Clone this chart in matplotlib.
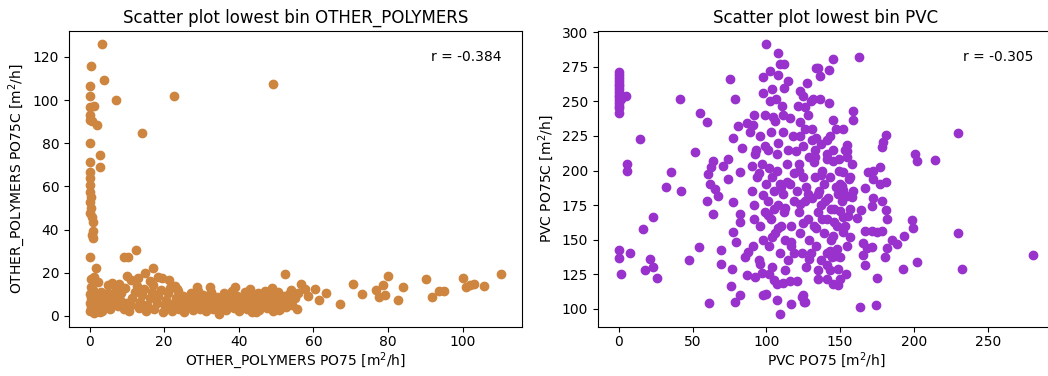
import matplotlib
matplotlib.use("Agg")
import matplotlib.pyplot as plt
import numpy as np

# ---------------- OTHER_POLYMERS data ----------------
# vertical stack near x = 0 and scattered high values
op_stack_x = [3.4, 0.5, 3.8, 0.0, 0.0, 7.1, 22.6, 49.2, 0.0, 1.2, 0.0, 0.0, 0.6, 1.9, 14.1, 0.0,
              2.7, 0.0, 2.7, 0.0, 0.0, 0.2, 0.0, 0.3, 0.0, 0.4, 0.2, 0.6, 0.8, 1.0, 1.0, 0.7,
              0.0, 1.6, 0.5, 2.3, 5.0, 5.9, 0.3, 1.1]
op_stack_y = [125.8, 115.7, 109.5, 106.4, 102.0, 99.9, 101.8, 107.3, 96.8, 97.1, 93.3, 91.0, 90.2, 88.6, 84.7, 80.0,
              74.5, 71.5, 69.2, 66.9, 63.8, 60.7, 57.6, 55.3, 52.9, 49.9, 47.5, 45.9, 43.6, 39.3, 35.9, 37.5,
              27.5, 22.0, 17.3, 15.7, 14.2, 15.0, 13.4, 18.0]
# dense band at low values
op_band_x = [0.0, 0.3, 0.1, 0.5, 0.0, 1.0, 1.5, 2.1, 1.8, 2.6, 3.1, 3.3, 3.6, 4.1, 4.6, 4.9, 1.1, 2.8, 0.6,
             5.6, 6.1, 6.4, 7.2, 7.6, 8.1, 8.4, 9.1, 9.6, 9.8, 9.2, 10.3, 12.5, 17.0, 14.8, 10.0,
             19.4, 21.2, 6.0, 7.8, 23.0, 23.4, 28.7, 32.3, 39.0, 43.0, 48.8, 54.1, 55.9, 52.5,
             10.6, 11.2, 11.4, 12.1, 12.6, 13.2, 13.4, 14.1, 14.6, 15.1, 15.4, 16.2, 16.6, 17.1, 17.4, 18.2,
             18.4, 19.1, 19.6, 16.1, 18.3, 11.0, 12.9,
             20.1, 20.4, 21.1, 21.6, 22.1, 22.4, 23.2, 23.7, 24.1, 24.6, 25.1, 25.4, 26.2, 26.6, 27.1, 27.6,
             28.2, 28.4, 29.1, 29.6,
             30.2, 30.4, 31.1, 31.6, 32.1, 32.6, 33.1, 33.4, 34.2, 34.6, 35.1, 35.4, 36.1, 36.6, 37.2, 37.4,
             38.1, 38.6, 39.1, 39.6,
             40.1, 40.4, 41.2, 41.6, 42.1, 42.4, 43.2, 43.6, 44.1, 44.6, 45.2, 45.4, 46.1, 46.6, 47.1, 47.6,
             48.2, 48.4, 49.1, 49.6,
             50.1, 50.6, 51.1, 51.4, 52.2, 52.6, 53.1, 53.4, 54.2, 55.1, 55.6, 44.7, 46.0, 50.8]
op_band_y = [2.1, 4.2, 6.1, 8.3, 10.2, 12.0, 3.1, 5.4, 7.6, 9.4, 11.1, 2.4, 6.2, 8.4, 4.1, 10.6, 1.2, 1.6, 11.2,
             3.4, 6.6, 9.1, 12.1, 4.6, 7.4, 10.4, 3.1, 13.1, 6.2, 27.3, 27.3, 30.5, 22.3, 20.0, 18.5,
             17.5, 16.5, 15.1, 15.0, 14.0, 12.7, 13.4, 13.2, 13.2, 12.4, 13.0, 12.1, 10.5, 19.2,
             2.2, 5.1, 8.2, 11.1, 14.0, 3.6, 6.4, 9.6, 12.6, 2.1, 5.2, 8.1, 11.2, 14.2, 3.2, 6.1,
             9.2, 12.2, 1.6, 16.0, 18.0, 16.5, 17.5,
             4.6, 7.4, 10.4, 13.1, 2.2, 5.6, 8.4, 11.4, 3.1, 6.6, 9.4, 1.6, 4.4, 7.6, 10.6, 2.6,
             5.4, 8.6, 11.6, 3.4,
             6.4, 9.6, 2.1, 5.1, 7.9, 11.1, 3.1, 6.1, 8.9, 1.1, 4.6, 7.4, 10.4, 2.6, 5.6, 8.4,
             11.4, 3.6, 6.4, 9.4,
             2.1, 5.1, 7.9, 11.1, 3.1, 6.1, 8.9, 1.6, 4.6, 7.4, 10.6, 2.6, 5.4, 8.6, 11.4, 3.6,
             6.4, 9.6, 2.1, 5.1,
             8.1, 11.0, 3.1, 6.1, 9.1, 4.1, 7.1, 10.1, 5.1, 8.1, 3.1, 1.8, 9.8, 2.9]
# scattered tail to the right
op_tail_x = [56.8, 57.7, 60.3, 63.3, 67.0, 70.6, 73.1, 76.8, 77.7, 78.6, 79.2, 79.9, 82.6, 83.9,
             90.1, 91.9, 93.7, 95.1, 100.0, 100.8, 102.0, 103.0, 105.7, 110.4, 58.5, 61.5]
op_tail_y = [15.0, 12.6, 12.6, 10.8, 5.7, 14.7, 10.0, 12.2, 8.7, 14.2, 9.5, 18.4, 7.2, 13.4,
             17.3, 8.7, 11.5, 11.5, 17.8, 13.4, 14.2, 14.7, 14.0, 19.3, 9.0, 7.5]

# ---------------- PVC data ----------------
pvc_stack_x = [0, 0, 0, 0, 0, 0, 0, 0, 0, 0, 0, 0, 0, 0, 0, 5.2, 1.5]
pvc_stack_y = [271, 269, 267, 265, 263, 261, 259, 257, 255, 253, 251, 249, 247, 245, 242, 254, 252]

pvc_left_x = [0.2, 0.2, 7.5, 1.8, 14.2, 5.9, 5.9, 16.5, 23.3, 21.5, 23.3, 17.6, 26.0, 31.7, 35.3,
              41.4, 42.5, 47.3, 52.0, 54.5, 54.9, 59.5, 61.2,
              60.5, 61.7, 65.1, 67.3, 59.5, 64.0, 64.0, 62.8, 70.7, 74.1, 74.1, 77.5, 69.6, 69.6,
              76.8, 75.9, 78.6, 82.0, 75.3, 78.6, 80.5, 77.1, 83.2, 86.6, 91.1, 91.5, 82.0, 90.0,
              82.0, 82.0, 77.5, 79.8, 85.4, 87.7, 86.6, 92.2]
pvc_left_y = [142.6, 136.6, 140.4, 124.8, 222.7, 204.7, 199.9, 157.3, 166.2, 136.1, 129.8, 128.2, 122.2, 187.9, 198.7,
              252.1, 185.0, 135.5, 213.6, 144.5, 241.5, 235.2, 104.3,
              197.5, 190.3, 186.6, 181.8, 178.2, 168.6, 207.0, 202.3, 203.5, 208.3, 193.9, 177.0, 142.1, 132.5,
              128.9, 116.1, 104.8, 110.1, 266.6, 252.1, 232.3, 223.5, 216.0, 234.3, 232.9, 240.1, 198.7, 203.5,
              168.6, 162.6, 155.4, 148.2, 137.3, 140.9, 124.0, 122.9]

pvc_top_x = [100.1, 108.0, 109.2, 111.9, 97.8, 102.4, 108.0, 114.8, 97.8, 103.9, 127.3, 122.7, 125.0,
             131.7, 134.0, 102.4, 106.9, 110.3, 121.6, 104.2, 162.9, 145.3, 135.1, 136.3, 142.6, 130.6,
             136.3, 142.6, 158.9, 158.9, 145.3, 92.2, 126.1, 122.7, 134.0, 137.4, 143.0, 230.0]
pvc_top_y = [291.3, 284.8, 276.9, 276.9, 267.7, 272.1, 269.0, 264.8, 256.5, 258.8, 263.7, 257.6, 254.0,
             251.6, 274.5, 250.4, 252.1, 246.8, 246.8, 239.1, 282.5, 280.5, 274.5, 268.5, 272.6, 250.4,
             252.1, 249.2, 243.2, 236.7, 236.7, 211.9, 230.0, 225.1, 223.9, 219.1, 225.1, 227.1]

pvc_right_x = [181.0, 179.2, 178.1, 155.0, 154.4, 154.4, 200.7, 201.8, 214.2, 132.9, 140.8, 140.8, 145.3,
               152.1, 156.6, 169.0, 172.4, 176.9, 156.1, 172.4, 176.9, 181.0, 166.8, 151.0, 148.7, 154.4,
               157.8, 172.0, 178.1, 171.3, 164.5, 161.6, 181.0, 181.9, 155.5, 149.8, 152.1, 198.4, 199.5,
               166.8, 171.3, 178.1, 174.7, 230.0, 193.2, 184.9, 188.3, 165.2, 167.9, 171.3, 181.5, 180.3,
               165.6, 166.8, 202.2, 192.3, 232.7, 280.9, 174.7, 163.4, 174.2, 125.0, 126.1, 145.3, 152.1,
               156.6, 147.6, 144.2, 149.8, 140.8, 148.7, 135.1, 140.8, 145.3, 149.8, 148.7]
pvc_right_y = [225.6, 220.4, 216.8, 218.4, 214.3, 209.5, 211.9, 207.1, 207.8, 209.5, 211.9, 208.3, 206.6,
               198.7, 195.1, 198.7, 199.9, 202.3, 193.9, 193.9, 190.3, 191.5, 187.1, 189.0, 183.0, 181.8,
               180.6, 179.9, 178.2, 174.2, 171.7, 165.5, 171.7, 165.0, 167.4, 171.0, 166.2, 163.8, 158.3,
               156.5, 156.5, 156.5, 155.4, 154.9, 152.9, 150.0, 146.9, 147.7, 143.8, 144.5, 143.8, 137.3,
               138.5, 131.3, 133.7, 128.4, 128.9, 138.5, 122.2, 101.2, 102.4, 109.6, 104.8, 152.9, 155.4,
               151.8, 143.3, 137.3, 137.3, 131.3, 128.9, 121.7, 121.7, 118.1, 121.7, 116.8]

pvc_bottom_x = [97.8, 100.1, 105.3, 111.0, 107.3, 109.2, 116.6, 123.9, 125.4, 97.2]
pvc_bottom_y = [109.6, 110.8, 120.4, 118.5, 106.0, 96.4, 103.6, 108.4, 104.8, 125.8]

pvc_center_x = [90, 92, 94, 96, 98, 91, 95, 99, 93, 97, 100, 89, 96, 99, 92,
                101, 103, 105, 107, 102, 104, 106, 108, 109, 101, 103, 106, 108, 104, 110, 102, 107, 109,
                111, 112, 113, 114, 115, 116, 117, 118, 119, 111, 113, 115, 117, 119, 112, 116,
                121, 122, 123, 124, 125, 126, 127, 128, 129, 121, 123, 125, 127, 129, 122, 128,
                131, 132, 133, 134, 135, 136, 137, 138, 139, 131, 133, 135, 137, 139, 130,
                141, 142, 143, 144, 146, 147, 148, 149, 141, 143, 145, 147,
                151, 153, 155, 157, 159, 152, 154, 158]
pvc_center_y = [185, 175, 195, 160, 150, 145, 135, 170, 215, 205, 190, 228, 225, 240, 165,
                178, 165, 185, 200, 145, 130, 155, 175, 140, 215, 228, 236, 220, 195, 160, 125, 118, 190,
                183, 170, 150, 205, 135, 190, 160, 225, 178, 240, 128, 215, 145, 198, 260, 120,
                185, 170, 155, 140, 195, 178, 130, 165, 210, 120, 235, 218, 188, 150, 200, 240,
                180, 160, 195, 145, 170, 185, 135, 200, 155, 230, 215, 128, 175, 190, 140,
                165, 180, 195, 150, 172, 188, 160, 200, 140, 128, 215, 230,
                178, 160, 145, 172, 185, 230, 125, 205]

pvc_extra_x = [95, 98, 101, 104, 107, 110, 113, 116, 119, 122, 125, 128, 131, 134, 137, 140, 143, 146, 149, 152,
               96, 99, 102, 105, 108, 111, 114, 117, 120, 123, 126, 129, 132, 135, 138, 141, 144, 147, 150, 153]
pvc_extra_y = [198, 182, 168, 152, 212, 188, 173, 238, 140, 205, 162, 183, 222, 158, 197, 178, 142, 163, 208, 186,
               132, 218, 202, 172, 158, 228, 192, 148, 214, 176, 246, 136, 206, 183, 165, 222, 172, 138, 190, 215]

op_color = "#CD853F"
pvc_color = "#9932CC"

DPI = 100
fig = plt.figure(figsize=(1048 / DPI, 376 / DPI), dpi=DPI)
ax1 = fig.add_axes([69 / 1048, 49 / 376, 453 / 1048, 296 / 376])
ax2 = fig.add_axes([598 / 1048, 49 / 376, 456 / 1048, 296 / 376])

op_x = op_stack_x + op_band_x + op_tail_x
op_y = op_stack_y + op_band_y + op_tail_y
ax1.scatter(op_x, op_y, color=op_color)
ax1.set_title("Scatter plot lowest bin OTHER_POLYMERS")
ax1.set_xlabel("OTHER_POLYMERS PO75 [m$^2$/h]", labelpad=1)
ax1.set_ylabel("OTHER_POLYMERS PO75C [m$^2$/h]")
ax1.text(0.8, 0.9, "r = -0.384", transform=ax1.transAxes)

pvc_x = pvc_stack_x + pvc_left_x + pvc_top_x + pvc_right_x + pvc_bottom_x + pvc_center_x + pvc_extra_x
pvc_y = pvc_stack_y + pvc_left_y + pvc_top_y + pvc_right_y + pvc_bottom_y + pvc_center_y + pvc_extra_y
ax2.scatter(pvc_x, pvc_y, color=pvc_color)
ax2.set_title("Scatter plot lowest bin PVC")
ax2.set_xlabel("PVC PO75 [m$^2$/h]", labelpad=1)
ax2.set_ylabel("PVC PO75C [m$^2$/h]")
ax2.text(0.8, 0.9, "r = -0.305", transform=ax2.transAxes)

for ax in (ax1, ax2):
    ax.tick_params(axis="x", pad=2)

fig.savefig("out.png", dpi=DPI)
